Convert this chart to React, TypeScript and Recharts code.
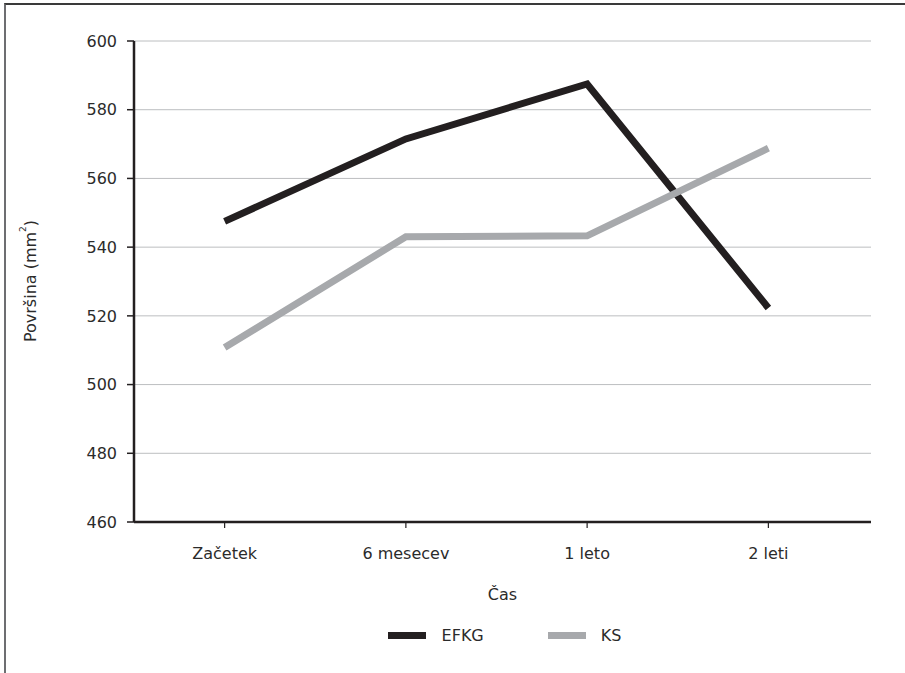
import React from 'react';
import { LineChart, Line, XAxis, YAxis, CartesianGrid, Legend } from 'recharts';

const categories = ['Začetek', '6 mesecev', '1 leto', '2 leti'];
const efkgValues = [547.5, 571.5, 587.5, 522.3];
const ksValues = [510.8, 543.0, 543.3, 568.8];
const yTicks = [460, 480, 500, 520, 540, 560, 580, 600];

const data = categories.map((c, i) => ({ name: c, EFKG: efkgValues[i], KS: ksValues[i] }));

const FONT = '"DejaVu Sans", sans-serif';
const TEXT = '#2b2b2b';
const DARK = '#231f20';
const GRAY = '#a7a9ac';

const YLabel = (props: any) => {
  const cx = 30;
  const cy = 281;
  return (
    <text
      x={cx}
      y={cy}
      transform={`rotate(-90, ${cx}, ${cy})`}
      textAnchor="middle"
      dominantBaseline="central"
      fill={TEXT}
      fontFamily={FONT}
      fontSize={16}
    >
      Površina (mm<tspan fontSize={9} dy={-7}>2</tspan><tspan dy={7}>)</tspan>
    </text>
  );
};

const LegendContent = () => (
  <div
    style={{
      display: 'flex',
      justifyContent: 'center',
      alignItems: 'center',
      height: 30,
      fontFamily: FONT,
      fontSize: 16,
      color: TEXT,
      paddingLeft: 4,
    }}
  >
    <div style={{ display: 'flex', alignItems: 'center' }}>
      <span style={{ display: 'inline-block', width: 38, height: 7, background: DARK, marginRight: 16 }} />
      <span>EFKG</span>
    </div>
    <div style={{ display: 'flex', alignItems: 'center', marginLeft: 64 }}>
      <span style={{ display: 'inline-block', width: 38, height: 7, background: GRAY, marginRight: 15 }} />
      <span>KS</span>
    </div>
  </div>
);

export default function App() {
  return (
    <div style={{ position: 'absolute', left: 0, top: 0, width: 905, height: 673, background: '#fff' }}>
      <div
        style={{
          position: 'absolute',
          left: 4,
          top: 3,
          width: 920,
          height: 668,
          borderTop: '2px solid #3a3a3a',
          borderLeft: '2px solid #6d6e71',
          borderBottom: '1px solid #d4d4d4',
        }}
      />
      <div style={{ position: 'absolute', left: 0, top: 0 }}>
        <LineChart
          width={905}
          height={673}
          data={data}
          margin={{ top: 41, right: 34, left: 0, bottom: 23 }}
        >
          <CartesianGrid vertical={false} stroke="#bcbec0" strokeWidth={1} />
          <XAxis
            dataKey="name"
            scale="band"
            padding={{ left: 0, right: 12 }}
            height={98}
            axisLine={{ stroke: DARK, strokeWidth: 2.5 }}
            tickLine={{ stroke: DARK, strokeWidth: 1.2 }}
            tickSize={6}
            tickMargin={20}
            tick={{ fill: TEXT, fontFamily: FONT, fontSize: 16 }}
            label={{ value: 'Čas', position: 'insideBottom', offset: 20, fill: TEXT, fontFamily: FONT, fontSize: 16 }}
          />
          <YAxis
            width={134}
            domain={[460, 600]}
            ticks={yTicks}
            interval={0}
            axisLine={{ stroke: DARK, strokeWidth: 2.5 }}
            tickLine={{ stroke: DARK, strokeWidth: 1.5 }}
            tickSize={7}
            tickMargin={10}
            tick={{ fill: TEXT, fontFamily: FONT, fontSize: 16 }}
            label={<YLabel />}
          />
          <Legend
            verticalAlign="bottom"
            height={30}
            content={<LegendContent />}
            wrapperStyle={{ left: 134, width: 737 }}
          />
          <Line
            type="linear"
            dataKey="EFKG"
            stroke={DARK}
            strokeWidth={7}
            dot={false}
            activeDot={false}
            strokeLinejoin="miter"
            isAnimationActive={false}
          />
          <Line
            type="linear"
            dataKey="KS"
            stroke={GRAY}
            strokeWidth={7}
            dot={false}
            activeDot={false}
            strokeLinejoin="miter"
            isAnimationActive={false}
          />
        </LineChart>
      </div>
    </div>
  );
}
